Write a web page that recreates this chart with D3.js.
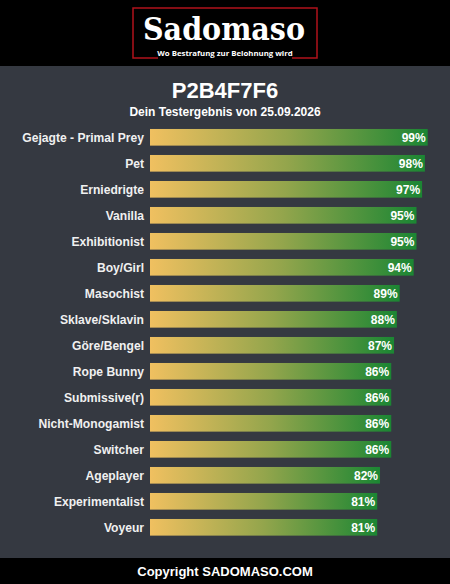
<!DOCTYPE html>
<html><head><meta charset="utf-8">
<script src="https://cdn.jsdelivr.net/npm/d3@7"></script>
<style>body{margin:0;background:#000;}svg{display:block;}</style>
</head><body>
<script>
const categories = ["Gejagte - Primal Prey","Pet","Erniedrigte","Vanilla","Exhibitionist","Boy/Girl","Masochist","Sklave/Sklavin","Göre/Bengel","Rope Bunny","Submissive(r)","Nicht-Monogamist","Switcher","Ageplayer","Experimentalist","Voyeur"];
const values = [99,98,97,95,95,94,89,88,87,86,86,86,86,82,81,81];
const title = "P2B4F7F6";
const subtitle = "Dein Testergebnis von 25.09.2026";
const footer = "Copyright SADOMASO.COM";

const W = 450, H = 584;
const svg = d3.select("body").append("svg").attr("width", W).attr("height", H);

svg.append("rect").attr("width", W).attr("height", H).attr("fill", "#000");
svg.append("rect").attr("y", 66).attr("width", W).attr("height", 492).attr("fill", "#353941");

// logo
const logo = svg.append("g");
logo.append("rect").attr("x", 133).attr("y", 8).attr("width", 184).attr("height", 50)
  .attr("fill", "none").attr("stroke", "#b0121b").attr("stroke-width", 1.5);
logo.append("text").attr("x", 224).attr("y", 40).attr("text-anchor", "middle")
  .attr("font-family", "DejaVu Serif").attr("font-weight", "bold").attr("font-size", 32)
  .attr("textLength", 162).attr("lengthAdjust", "spacingAndGlyphs")
  .attr("fill", "#fff").text("Sadomaso");
logo.append("rect").attr("x", 158).attr("y", 47).attr("width", 134).attr("height", 13).attr("fill", "#000");
logo.append("text").attr("x", 225).attr("y", 56).attr("text-anchor", "middle")
  .attr("font-family", "Open Sans, sans-serif").attr("font-weight", "bold").attr("font-size", 7.8)
  .attr("fill", "#fff").text("Wo Bestrafung zur Belohnung wird");

svg.append("text").attr("x", 225).attr("y", 98).attr("text-anchor", "middle")
  .attr("font-family", "Liberation Sans, Arial, sans-serif").attr("font-weight", "bold").attr("font-size", 22)
  .attr("fill", "#fff").text(title);
svg.append("text").attr("x", 225).attr("y", 116).attr("text-anchor", "middle")
  .attr("font-family", "Liberation Sans, Arial, sans-serif").attr("font-weight", "bold").attr("font-size", 12)
  .attr("fill", "#fff").text(subtitle);

const defs = svg.append("defs");
const grad = defs.append("linearGradient").attr("id", "bg").attr("x1", "0").attr("x2", "1").attr("y1", "0").attr("y2", "0");
grad.append("stop").attr("offset", "0%").attr("stop-color", "#f0c060");
grad.append("stop").attr("offset", "50%").attr("stop-color", "#93a54c");
grad.append("stop").attr("offset", "100%").attr("stop-color", "#1b8633");

const x = d3.scaleLinear().domain([0, 100]).range([150, 430.5]);
const y = d3.scaleBand().domain(categories).range([124.3, 540.3]).paddingInner(0.36).paddingOuter(0.18);

const rows = svg.append("g").selectAll("g").data(categories).join("g");
rows.append("rect").attr("x", x(0)).attr("y", d => y(d)).attr("height", y.bandwidth())
  .attr("width", (d, i) => x(values[i]) - x(0)).attr("fill", "url(#bg)");
rows.append("text").attr("x", 144).attr("y", d => y(d) + y.bandwidth() / 2).attr("dy", "0.35em")
  .attr("text-anchor", "end").attr("font-family", "Liberation Sans, Arial, sans-serif").attr("font-weight", "bold")
  .attr("font-size", 12.1).attr("fill", "#f0f0f0").text(d => d);
rows.append("text").attr("x", (d, i) => x(values[i]) - 2).attr("y", d => y(d) + y.bandwidth() / 2).attr("dy", "0.35em")
  .attr("text-anchor", "end").attr("font-family", "Liberation Sans, Arial, sans-serif").attr("font-weight", "bold")
  .attr("font-size", 12).attr("fill", "#fff").text((d, i) => values[i] + "%");

svg.append("text").attr("x", 225).attr("y", 576).attr("text-anchor", "middle")
  .attr("font-family", "Liberation Sans, Arial, sans-serif").attr("font-weight", "bold").attr("font-size", 13)
  .attr("fill", "#fff").text(footer);
</script>
</body></html>
